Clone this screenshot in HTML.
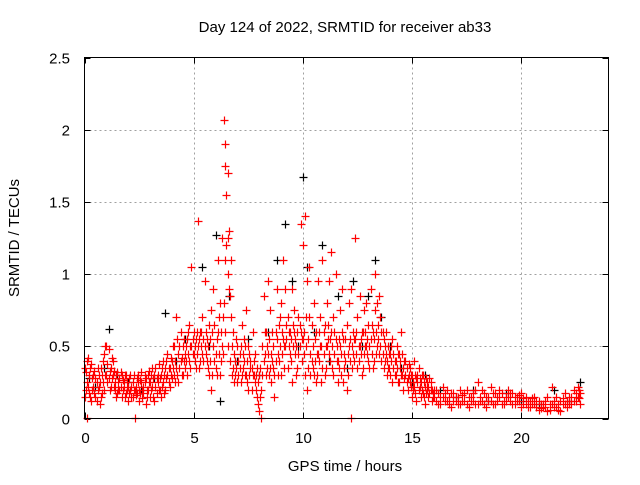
<!DOCTYPE html>
<html><head><meta charset="utf-8"><style>
body{margin:0;background:#fff;}
svg text{font-family:"Liberation Sans",sans-serif;font-size:15px;fill:#000;}
</style></head><body>
<svg id="chart" width="640" height="480" xmlns="http://www.w3.org/2000/svg">
<rect width="640" height="480" fill="#fff"/>
<text x="345" y="32" text-anchor="middle">Day 124 of 2022, SRMTID for receiver ab33</text>
<text x="345" y="471" text-anchor="middle">GPS time / hours</text>
<text transform="translate(19,238) rotate(-90)" text-anchor="middle">SRMTID / TECUs</text>
<g id="grid"></g>
<g id="ticks"></g>
<g id="black"></g>
<g id="red"></g>
<rect x="84.5" y="57.5" width="524" height="361" fill="none" stroke="#000"/>
</svg>
<script>
const xTicks=[0,5,10,15,20];
const yTicks=[0,0.5,1,1.5,2,2.5];
const yTickLabels=["0","0.5","1","1.5","2","2.5"];
const redPoints=[[0,.35],[0,.15],[.1,.25],[.1,.4],[.1,0],[.2,.18],[.2,.3],[.3,.12],[.3,.38],[.4,.22],[.4,.3],[.5,.15],[.5,.28],[.6,.35],[.6,.2],[.7,.1],[.7,.25],[.8,.3],[.8,.18],[.9,.2],[.9,.45],[1,.5],[1,.3],[1.1,.28],[1.1,.48],[1.2,.35],[1.2,.22],[1.3,.3],[1.3,.4],[1.4,.25],[1.4,.2],[1.5,.32],[1.5,.18],[1.6,.2],[1.6,.28],[1.7,.15],[1.7,.3],[1.8,.25],[1.8,.22],[1.9,.18],[1.9,.3],[2,.22],[2,.12],[2.1,.3],[2.1,.2],[2.2,.15],[2.2,.25],[2.3,0],[2.3,.2],[2.4,.28],[2.4,.18],[2.5,.2],[2.5,.12],[2.6,.25],[2.6,.32],[2.7,.18],[2.7,.22],[2.8,.1],[2.8,.28],[2.9,.3],[2.9,.2],[3,.15],[3,.25],[3.1,.22],[3.1,.35],[3.2,.12],[3.2,.3],[3.3,.28],[3.3,.18],[3.4,.2],[3.4,.38],[3.5,.3],[3.5,.15],[3.6,.25],[3.6,.4],[3.7,.35],[3.7,.2],[3.8,.3],[3.8,.45],[3.9,.22],[3.9,.35],[4,.4],[4,.28],[4.1,.3],[4.1,.5],[4.2,.7],[4.2,.35],[4.3,.25],[4.3,.45],[4.4,.4],[4.4,.6],[4.5,.3],[4.5,.5],[4.6,.45],[4.6,.35],[4.7,.55],[4.7,.3],[4.8,.4],[4.8,.65],[4.9,1.05],[4.9,.5],[5,.45],[5,.6],[5.1,.55],[5.1,.35],[5.2,1.37],[5.2,.5],[5.3,.6],[5.3,.4],[5.4,.7],[5.4,.45],[5.5,.5],[5.5,.95],[5.6,.4],[5.6,.55],[5.7,.3],[5.7,.65],[5.8,.75],[5.8,.2],[5.9,.5],[5.9,.9],[6,.45],[6,.35],[6.1,1.1],[6.1,.6],[6.2,.3],[6.2,.8],[6.3,.5],[6.3,1.25],[6.4,2.07],[6.4,.8],[6.45,1.75],[6.45,1.9],[6.5,1.55],[6.5,1.2],[6.55,1.7],[6.55,1],[6.6,1.3],[6.6,.9],[6.7,1.1],[6.7,.7],[6.8,.6],[6.8,.35],[6.9,.4],[6.9,.3],[7,.5],[7,.25],[7.1,.35],[7.1,.45],[7.2,.65],[7.2,.3],[7.3,.4],[7.3,.55],[7.4,.3],[7.4,.75],[7.5,.5],[7.5,.2],[7.6,.35],[7.6,.4],[7.7,.6],[7.7,.3],[7.8,.25],[7.8,.45],[7.9,.15],[7.9,.35],[8,.05],[8,.3],[8.1,.2],[8.1,0],[8.2,.4],[8.2,.85],[8.3,.6],[8.3,.3],[8.4,.95],[8.4,.45],[8.5,.75],[8.5,.35],[8.6,.4],[8.6,.6],[8.7,.3],[8.7,.15],[8.8,.55],[8.8,.9],[8.9,.65],[8.9,.4],[9,.8],[9,.3],[9.1,1.1],[9.1,.55],[9.2,.5],[9.2,.9],[9.3,.7],[9.3,.35],[9.4,.45],[9.4,.6],[9.5,.9],[9.5,.25],[9.6,.6],[9.6,.75],[9.7,.5],[9.7,.3],[9.8,.7],[9.8,.45],[9.9,1.35],[9.9,.6],[10,1.2],[10,.55],[10.1,1.4],[10.1,.3],[10.2,.95],[10.2,.2],[10.3,.7],[10.3,1.05],[10.4,.4],[10.4,.65],[10.5,.3],[10.5,.8],[10.6,.6],[10.6,.25],[10.7,.95],[10.7,.45],[10.8,.5],[10.8,.7],[10.9,.35],[10.9,1.1],[11,.65],[11,.3],[11.1,.8],[11.1,.5],[11.2,.45],[11.2,.95],[11.3,1.15],[11.3,.6],[11.4,.3],[11.4,.7],[11.5,.55],[11.5,1],[11.6,.4],[11.6,.25],[11.7,.75],[11.7,.5],[11.8,.6],[11.8,.9],[11.9,.35],[11.9,.45],[12,.2],[12,.65],[12.1,.5],[12.1,.8],[12.2,.9],[12.2,0],[12.3,.45],[12.3,.6],[12.4,1.25],[12.4,.55],[12.5,.7],[12.5,.35],[12.6,.5],[12.6,.85],[12.7,.6],[12.7,.3],[12.8,.45],[12.8,.75],[12.9,.8],[12.9,.5],[13,.4],[13,.65],[13.1,.9],[13.1,.55],[13.2,.6],[13.2,.35],[13.3,1],[13.3,.75],[13.4,.5],[13.4,.8],[13.5,.85],[13.5,.45],[13.6,.6],[13.6,.4],[13.7,.55],[13.7,.35],[13.8,.45],[13.8,.6],[13.9,.35],[13.9,.5],[14,.3],[14,.45],[14.1,.55],[14.1,.25],[14.2,.4],[14.2,.3],[14.3,.5],[14.3,.35],[14.4,.25],[14.4,.45],[14.5,.6],[14.5,.3],[14.6,.35],[14.6,.2],[14.7,.3],[14.7,.4],[14.8,.2],[14.8,.28],[14.9,.25],[14.9,.35],[15,.3],[15,.15],[15.1,.22],[15.1,.4],[15.2,.28],[15.2,.12],[15.3,.2],[15.3,.35],[15.4,.15],[15.4,.25],[15.5,.3],[15.5,.18],[15.6,.22],[15.6,.1],[15.7,.25],[15.7,.2],[15.8,.18],[15.8,.28],[15.9,.12],[15.9,.2],[16,.2],[16,.15],[16.2,.1],[16.2,.18],[16.4,.15],[16.4,.22],[16.6,.12],[16.6,.2],[16.8,.18],[16.8,.08],[17,.15],[17,.12],[17.2,.2],[17.2,.1],[17.4,.12],[17.4,.18],[17.6,.08],[17.6,.15],[17.8,.18],[17.8,.12],[18,.25],[18,.1],[18.2,.12],[18.2,.2],[18.4,.15],[18.4,.08],[18.6,.22],[18.6,.12],[18.8,.1],[18.8,.18],[19,.15],[19,.2],[19.2,.12],[19.2,.1],[19.4,.2],[19.4,.15],[19.6,.1],[19.6,.18],[19.8,.15],[19.8,.12],[20,.18],[20,.08],[20.2,.1],[20.2,.15],[20.4,.12],[20.4,.08],[20.6,.15],[20.6,.1],[20.8,.06],[20.8,.12],[21,.1],[21,.08],[21.2,.05],[21.2,.15],[21.4,.22],[21.4,.1],[21.6,.08],[21.6,.15],[21.8,.12],[21.8,.05],[22,.18],[22,.1],[22.2,.1],[22.2,.15],[22.4,.2],[22.4,.12],[22.6,.15],[22.6,.22],[22.7,.1],[22.7,.18]];
const redPoints2=[[.05,.2],[.05,.32],[.15,.22],[.15,.42],[.25,.15],[.25,.35],[.35,.2],[.35,.28],[.45,.18],[.45,.33],[.55,.25],[.55,.12],[.65,.3],[.65,.22],[.75,.15],[.75,.35],[.85,.25],[.85,.4],[.95,.3],[.95,.5],[1.05,.38],[1.05,.25],[1.15,.33],[1.15,.2],[1.25,.28],[1.25,.42],[1.35,.22],[1.35,.33],[1.45,.3],[1.45,.15],[1.55,.25],[1.55,.2],[1.65,.22],[1.65,.32],[1.75,.2],[1.75,.27],[1.85,.3],[1.85,.15],[1.95,.25],[1.95,.2],[2.05,.18],[2.05,.28],[2.15,.22],[2.15,.15],[2.25,.3],[2.25,.2],[2.35,.22],[2.35,.16],[2.45,.25],[2.45,.3],[2.55,.18],[2.55,.27],[2.65,.2],[2.65,.14],[2.75,.3],[2.75,.25],[2.85,.2],[2.85,.15],[2.95,.25],[2.95,.33],[3.05,.2],[3.05,.3],[3.15,.28],[3.15,.15],[3.25,.22],[3.25,.35],[3.35,.3],[3.35,.25],[3.45,.28],[3.45,.2],[3.55,.35],[3.55,.22],[3.65,.3],[3.65,.18],[3.75,.28],[3.75,.4],[3.85,.35],[3.85,.25],[3.95,.3],[3.95,.42],[4.05,.35],[4.05,.5],[4.15,.4],[4.15,.25],[4.25,.3],[4.25,.55],[4.35,.35],[4.35,.5],[4.45,.42],[4.45,.3],[4.55,.4],[4.55,.55],[4.65,.5],[4.65,.4],[4.75,.45],[4.75,.6],[4.85,.35],[4.85,.5],[4.95,.45],[4.95,.55],[5.05,.5],[5.05,.4],[5.15,.6],[5.15,.45],[5.25,.55],[5.25,.35],[5.35,.5],[5.35,.6],[5.45,.55],[5.45,.4],[5.55,.6],[5.55,.45],[5.65,.5],[5.65,.35],[5.75,.55],[5.75,.4],[5.85,.6],[5.85,.3],[5.95,.4],[5.95,.65],[6.05,.55],[6.05,.3],[6.15,.45],[6.15,.7],[6.25,.4],[6.25,.6],[6.35,.7],[6.35,.45],[6.45,1.1],[6.45,.6],[6.55,1.25],[6.55,.5],[6.65,.85],[6.65,.4],[6.75,.5],[6.75,.3],[6.85,.45],[6.85,.25],[6.95,.35],[6.95,.55],[7.05,.4],[7.05,.3],[7.15,.25],[7.15,.5],[7.25,.35],[7.25,.45],[7.35,.3],[7.35,.5],[7.45,.4],[7.45,.25],[7.55,.3],[7.55,.45],[7.65,.35],[7.65,.2],[7.75,.4],[7.75,.3],[7.85,.2],[7.85,.3],[7.95,.25],[7.95,.1],[8.05,.15],[8.05,.35],[8.15,.3],[8.15,.5],[8.25,.45],[8.25,.6],[8.35,.5],[8.35,.35],[8.45,.55],[8.45,.3],[8.55,.45],[8.55,.25],[8.65,.5],[8.65,.35],[8.75,.4],[8.75,.6],[8.85,.45],[8.85,.3],[8.95,.5],[8.95,.7],[9.05,.6],[9.05,.45],[9.15,.5],[9.15,.35],[9.25,.55],[9.25,.65],[9.35,.5],[9.35,.6],[9.45,.55],[9.45,.4],[9.55,.5],[9.55,.65],[9.65,.55],[9.65,.45],[9.75,.6],[9.75,.35],[9.85,.5],[9.85,.65],[9.95,.55],[9.95,.4],[10.05,.6],[10.05,.45],[10.15,.5],[10.15,.7],[10.25,.35],[10.25,.55],[10.35,.45],[10.35,.3],[10.45,.5],[10.45,.35],[10.55,.4],[10.55,.55],[10.65,.45],[10.65,.3],[10.75,.6],[10.75,.4],[10.85,.5],[10.85,.25],[10.95,.45],[10.95,.6],[11.05,.5],[11.05,.35],[11.15,.55],[11.15,.65],[11.25,.4],[11.25,.55],[11.35,.5],[11.35,.35],[11.45,.45],[11.45,.6],[11.55,.4],[11.55,.5],[11.65,.55],[11.65,.35],[11.75,.45],[11.75,.3],[11.85,.55],[11.85,.25],[11.95,.4],[11.95,.55],[12.05,.3],[12.05,.45],[12.15,.4],[12.15,.55],[12.25,.35],[12.25,.5],[12.35,.55],[12.35,.4],[12.45,.45],[12.45,.6],[12.55,.5],[12.55,.4],[12.65,.55],[12.65,.45],[12.75,.6],[12.75,.35],[12.85,.5],[12.85,.6],[12.95,.45],[12.95,.55],[13.05,.5],[13.05,.35],[13.15,.45],[13.15,.65],[13.25,.55],[13.25,.4],[13.35,.6],[13.35,.45],[13.45,.65],[13.45,.55],[13.55,.5],[13.55,.7],[13.65,.45],[13.65,.6],[13.75,.5],[13.75,.4],[13.85,.4],[13.85,.3],[13.95,.45],[13.95,.35],[14.05,.4],[14.05,.5],[14.15,.35],[14.15,.45],[14.25,.4],[14.25,.3],[14.35,.45],[14.35,.25],[14.45,.35],[14.45,.4],[14.55,.3],[14.55,.45],[14.65,.4],[14.65,.28],[14.75,.25],[14.75,.35],[14.85,.3],[14.85,.38],[14.95,.22],[14.95,.3],[15.05,.25],[15.05,.2],[15.15,.3],[15.15,.18],[15.25,.25],[15.25,.3],[15.35,.22],[15.35,.28],[15.45,.2],[15.45,.3],[15.55,.25],[15.55,.15],[15.65,.18],[15.65,.28],[15.75,.15],[15.75,.22],[15.85,.2],[15.85,.25],[15.95,.15],[15.95,.18],[16.1,.12],[16.1,.2],[16.3,.15],[16.3,.1],[16.5,.18],[16.5,.12],[16.7,.15],[16.7,.1],[16.9,.12],[16.9,.18],[17.1,.15],[17.1,.1],[17.3,.12],[17.3,.16],[17.5,.1],[17.5,.2],[17.7,.12],[17.7,.15],[17.9,.1],[17.9,.2],[18.1,.15],[18.1,.12],[18.3,.18],[18.3,.1],[18.5,.12],[18.5,.15],[18.7,.18],[18.7,.1],[18.9,.15],[18.9,.12],[19.1,.18],[19.1,.1],[19.3,.15],[19.3,.12],[19.5,.18],[19.5,.12],[19.7,.15],[19.7,.1],[19.9,.12],[19.9,.16],[20.1,.14],[20.1,.1],[20.3,.12],[20.3,.08],[20.5,.1],[20.5,.14],[20.7,.08],[20.7,.12],[20.9,.1],[20.9,.07],[21.1,.12],[21.1,.08],[21.3,.1],[21.3,.06],[21.5,.12],[21.5,.08],[21.7,.1],[21.7,.06],[21.9,.1],[21.9,.14],[22.1,.12],[22.1,.08],[22.3,.15],[22.3,.1],[22.5,.12],[22.5,.18],[22.65,.14],[22.65,.2]];
const blackPoints=[[.2,.28],[.5,.22],[.9,.35],[1.1,.62],[1.5,.3],[2,.25],[2.6,.2],[3.2,.28],[3.7,.73],[4.2,.4],[4.6,.55],[5.4,1.05],[5.7,.5],[6,1.27],[6.2,.12],[6.6,.85],[7,.4],[7.5,.55],[8,.3],[8.4,.6],[8.8,1.1],[9.2,1.35],[9.5,.95],[9.8,.5],[10,1.67],[10.2,1.05],[10.5,.6],[10.9,1.2],[11.2,.4],[11.6,.85],[12,.35],[12.3,.95],[12.7,.5],[13,.85],[13.3,1.1],[13.6,.7],[14,.5],[14.5,.35],[15,.25],[15.6,.3],[16.3,.2],[17,.15],[17.8,.2],[18.5,.12],[19.3,.18],[20,.12],[20.8,.1],[21.5,.2],[22.2,.12],[22.7,.25]];
const NS="http://www.w3.org/2000/svg";
const X0=84.5,X1=608.5,Y0=418.5,Y1=57.5;
function xs(t){return X0+(t/24)*(X1-X0);}
function ys(v){return Y0-(v/2.5)*(Y0-Y1);}
const grid=document.getElementById('grid'),ticks=document.getElementById('ticks');
function line(g,x1,y1,x2,y2,st,da){const l=document.createElementNS(NS,'line');l.setAttribute('x1',x1);l.setAttribute('y1',y1);l.setAttribute('x2',x2);l.setAttribute('y2',y2);l.setAttribute('stroke',st);if(da)l.setAttribute('stroke-dasharray',da);g.appendChild(l);return l;}
function txt(x,y,s,a){const t=document.createElementNS(NS,'text');t.setAttribute('x',x);t.setAttribute('y',y);t.setAttribute('text-anchor',a);t.textContent=s;ticks.appendChild(t);return t;}
xTicks.forEach(t=>{const x=Math.round(xs(t))+.5;
 if(t>0){const g=line(grid,x,Y1,x,Y0,'#a0a0a0','2,3');}
 line(ticks,x,Y0,x,Y0-6,'#000');line(ticks,x,Y1,x,Y1+6,'#000');
 const l=txt(x,443,String(t),'middle');});
yTicks.forEach((v,i)=>{const y=Math.round(ys(v))+.5;
 if(v>0&&v<2.5){const g=line(grid,X0,y,X1,y,'#a0a0a0','2,3');}
 line(ticks,X0,y,X0+6,y,'#000');line(ticks,X1,y,X1-6,y,'#000');
 const l=txt(70,y+5,yTickLabels[i],'end');});
function plot(id,pts,col){const g=document.getElementById(id);let d='';
 pts.forEach(p=>{const x=Math.round(xs(p[0]))+.5,y=Math.min(Math.round(ys(p[1]))+.5,Y0);d+=`M${x-4},${y}h8M${x},${y-4}v8`;});
 const pa=document.createElementNS(NS,'path');pa.setAttribute('d',d);pa.setAttribute('stroke',col);pa.setAttribute('stroke-width','1.2');pa.setAttribute('fill','none');
 
 
 g.appendChild(pa);}
plot('black',blackPoints,'#000');
plot('red',redPoints.concat(redPoints2),'#ff0000');
</script>
</body></html>
